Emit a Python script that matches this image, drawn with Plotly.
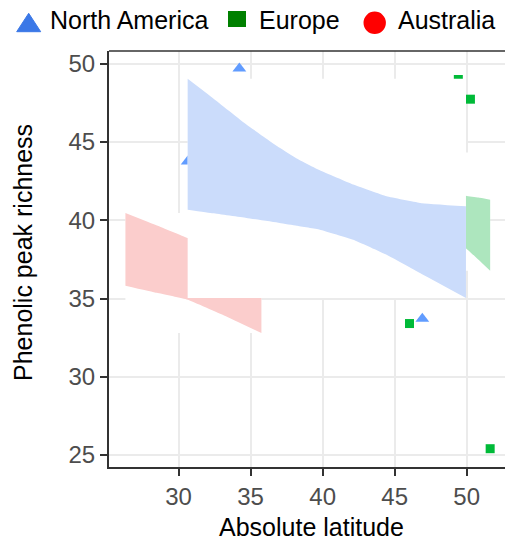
import plotly.graph_objects as go

# Observations: absolute latitude vs phenolic peak richness
na_lat = [34.22, 30.63, 46.92]
na_peaks = [49.7, 43.75, 33.7]

eu_lat = [49.42, 50.26, 46.03, 51.63]
eu_peaks = [49.0, 47.74, 33.4, 25.4]

# Confidence ribbons of the regional fits
na_band_x = [30.63, 32.39, 34.71, 37.02, 38.2, 39.81, 42.12, 44.44, 46.76, 49.95]
na_band_hi = [49.04, 47.8, 46.12, 44.63, 43.95, 43.19, 42.28, 41.53, 41.11, 40.89]
na_band_lo = [40.68, 40.45, 40.15, 39.83, 39.65, 39.4, 38.76, 37.8, 36.63, 35.03]

eu_band_x = [46.03, 47.5, 49.0, 49.95, 50.8, 51.63]
eu_band_hi = [44.33, 42.9, 41.9, 41.57, 41.45, 41.32]
eu_band_lo = [37.6, 38.2, 38.5, 38.2, 37.5, 36.78]

au_band_x = [26.31, 28.5, 30.63, 33.2, 35.75]
au_band_hi = [40.47, 39.67, 38.87, 37.9, 36.95]
au_band_lo = [35.82, 35.36, 34.92, 33.9, 32.79]

x_ticks = [30, 35, 40, 45, 50]
y_ticks = [25, 30, 35, 40, 45, 50]

W, H = 505, 542
L, R, T, B = 109, 0, 51, 75
PW, PH = W - L - R, H - T - B

FONT = "Liberation Sans, Arial, sans-serif"

fig = go.Figure()

fig.add_trace(go.Scatter(
    x=na_lat, y=na_peaks, mode="markers", hoverinfo="skip",
    marker=dict(symbol="triangle-up", size=12, color="#619CFF"),
    showlegend=False))
fig.add_trace(go.Scatter(
    x=eu_lat, y=eu_peaks, mode="markers", hoverinfo="skip",
    marker=dict(symbol="square", size=9, color="#00BA38"),
    showlegend=False))


def add_ribbon(xs, hi, lo, color):
    x0, x1 = min(xs), max(xs)
    y0, y1 = min(lo), max(hi)
    # opaque backing box behind the ribbon
    fig.add_trace(go.Scatter(
        x=[x0, x1, x1, x0, x0], y=[y0, y0, y1, y1, y0],
        mode="lines", fill="toself", fillcolor="white",
        line=dict(width=0), hoverinfo="skip", showlegend=False))
    fig.add_trace(go.Scatter(
        x=xs, y=lo, mode="lines", line=dict(width=0, shape="spline", smoothing=0.3),
        hoverinfo="skip", showlegend=False))
    fig.add_trace(go.Scatter(
        x=xs, y=hi, mode="lines", line=dict(width=0, shape="spline", smoothing=0.3),
        fill="tonexty", fillcolor=color, hoverinfo="skip", showlegend=False))


add_ribbon(eu_band_x, eu_band_hi, eu_band_lo, "#ADE6BE")
add_ribbon(au_band_x, au_band_hi, au_band_lo, "#FBCDCC")
add_ribbon(na_band_x, na_band_hi, na_band_lo, "#CBDCFB")


def px(xp):
    return (xp - L) / PW


def py(yp):
    return (H - B - yp) / PH


shapes = [
    # legend keys
    dict(type="path", xref="paper", yref="paper",
         path=f"M {px(16.7)},{py(31.7)} L {px(40.7)},{py(31.7)} L {px(28.7)},{py(13.3)} Z",
         fillcolor="#3B78E7", line=dict(color="#3B78E7", width=1)),
    dict(type="rect", xref="paper", yref="paper",
         x0=px(228), x1=px(246), y0=py(27), y1=py(11),
         fillcolor="#008000", line=dict(width=0)),
    dict(type="circle", xref="paper", yref="paper",
         x0=px(363.5), x1=px(385.9), y0=py(34), y1=py(11.6),
         fillcolor="#FF0000", line=dict(width=0)),
    # top panel edge
    dict(type="line", xref="paper", yref="paper", x0=0, x1=1, y0=1, y1=1,
         line=dict(color="#333333", width=1.3)),
]

annotations = [
    dict(text="North America", x=px(48), y=py(20), xanchor="left", yanchor="middle"),
    dict(text="Europe", x=px(256.5), y=py(20), xanchor="left", yanchor="middle"),
    dict(text="Australia", x=px(396), y=py(20), xanchor="left", yanchor="middle"),
    dict(text="Absolute latitude", x=px(311), y=py(527), xanchor="center", yanchor="middle"),
    dict(text="Phenolic peak richness", x=px(23), y=py(253), xanchor="center",
         yanchor="middle", textangle=-90),
]
for a in annotations:
    a.update(xref="paper", yref="paper", showarrow=False,
             font=dict(family=FONT, size=25, color="black"))

axis_common = dict(
    showgrid=True, gridcolor="#EBEBEB", gridwidth=2, zeroline=False,
    showline=True, linecolor="#333333", linewidth=2,
    ticks="outside", ticklen=7, tickwidth=2, tickcolor="#333333",
    tickfont=dict(family=FONT, size=24, color="#4D4D4D"),
)

fig.update_layout(
    width=W, height=H,
    margin=dict(l=L, r=R, t=T, b=B, pad=0),
    paper_bgcolor="white", plot_bgcolor="white",
    showlegend=False,
    shapes=shapes, annotations=annotations,
    xaxis=dict(range=[25.17, 52.66], tickvals=x_ticks, **axis_common),
    yaxis=dict(range=[24.23, 50.82], tickvals=y_ticks, **axis_common),
)

fig.write_html("out.html")
